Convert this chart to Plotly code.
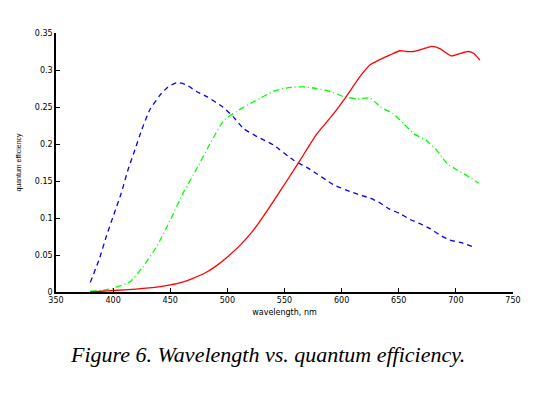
import plotly.graph_objects as go

blue_x = [380, 388, 394, 400, 407, 413, 419, 425, 432, 441, 448, 456, 464, 473, 482, 496, 505, 514, 526, 540, 558, 571, 593, 607, 616, 625, 634, 642, 651, 660, 669, 677, 686, 695, 704, 715]
blue_y = [0.013, 0.045, 0.075, 0.102, 0.133, 0.165, 0.192, 0.219, 0.246, 0.266, 0.277, 0.283, 0.280, 0.271, 0.264, 0.250, 0.237, 0.221, 0.210, 0.199, 0.178, 0.167, 0.145, 0.136, 0.131, 0.127, 0.120, 0.112, 0.106, 0.098, 0.092, 0.086, 0.077, 0.070, 0.067, 0.061]

green_x = [380, 390, 400, 415, 426, 438, 450, 461, 474, 485, 497, 508, 518, 529, 540, 549, 558, 569, 578, 590, 602, 613, 625, 634, 645, 654, 663, 674, 683, 692, 701, 709, 720]
green_y = [0.001, 0.002, 0.005, 0.014, 0.034, 0.061, 0.097, 0.133, 0.169, 0.201, 0.232, 0.244, 0.253, 0.262, 0.271, 0.275, 0.277, 0.277, 0.275, 0.271, 0.264, 0.261, 0.262, 0.250, 0.241, 0.228, 0.214, 0.205, 0.192, 0.174, 0.165, 0.158, 0.147]

red_x = [380, 390, 400, 420, 440, 450, 460, 470, 482, 490, 499, 511, 523, 534, 543, 552, 564, 578, 593, 604, 616, 625, 634, 642, 651, 657, 663, 672, 679, 686, 696, 704, 711, 716, 721]
red_y = [0.000, 0.001, 0.002, 0.004, 0.007, 0.0095, 0.013, 0.0185, 0.027, 0.035, 0.046, 0.063, 0.084, 0.108, 0.129, 0.150, 0.179, 0.213, 0.241, 0.264, 0.291, 0.307, 0.3145, 0.320, 0.326, 0.325, 0.325, 0.329, 0.332, 0.329, 0.319, 0.3225, 0.325, 0.322, 0.3135]

x_ticks = [350, 400, 450, 500, 550, 600, 650, 700, 750]
y_ticks = [0, 0.05, 0.1, 0.15, 0.2, 0.25, 0.3, 0.35]
y_tick_text = ["0", "0.05", "0.1", "0.15", "0.2", "0.25", "0.3", "0.35"]

fig = go.Figure()
fig.add_trace(go.Scatter(x=blue_x, y=blue_y, mode="lines", line=dict(color="#0000ff", width=1.3, dash="5px,4px", shape="spline", smoothing=0.5)))
fig.add_trace(go.Scatter(x=green_x, y=green_y, mode="lines", line=dict(color="#00ff00", width=1.3, dash="6px,3px,1px,3px", shape="spline", smoothing=0.5)))
fig.add_trace(go.Scatter(x=red_x, y=red_y, mode="lines", line=dict(color="#ff0000", width=1.3, shape="spline", smoothing=0.5)))

axis_font = dict(family="DejaVu Sans, Verdana, sans-serif", size=8, color="black")
# page body has an 8px margin; figure drawn at (8,8)
fig.update_layout(
    width=542, height=391,
    margin=dict(l=48, r=37, t=25, b=107),
    paper_bgcolor="white", plot_bgcolor="white",
    showlegend=False,
    xaxis=dict(range=[350, 750], tickvals=x_ticks, ticks="inside", ticklen=4, tickcolor="black",
               showline=True, linecolor="black", linewidth=1.5, showgrid=False, zeroline=False,
               tickfont=axis_font, automargin=False,
               title=dict(text="wavelength, nm", font=axis_font, standoff=5)),
    yaxis=dict(range=[0, 0.35], tickvals=y_ticks, ticktext=y_tick_text, ticks="inside", ticklen=4, tickcolor="black",
               showline=True, linecolor="black", linewidth=1.5, showgrid=False, zeroline=False,
               tickfont=axis_font, automargin=False,
               title=dict(text="quantum efficiency", font=dict(family="Liberation Sans Narrow, Arial Narrow, sans-serif", size=7, color="black"), standoff=12)),
    annotations=[dict(text="Figure 6. Wavelength vs. quantum efficiency.", xref="paper", yref="paper",
                      x=(267 - 56) / 457, y=(292 - 354) / 259, xanchor="center", yanchor="middle", showarrow=False,
                      font=dict(family="Liberation Serif, Times New Roman, serif", size=22, color="black", style="italic"))]
)
fig.write_html("out.html")
